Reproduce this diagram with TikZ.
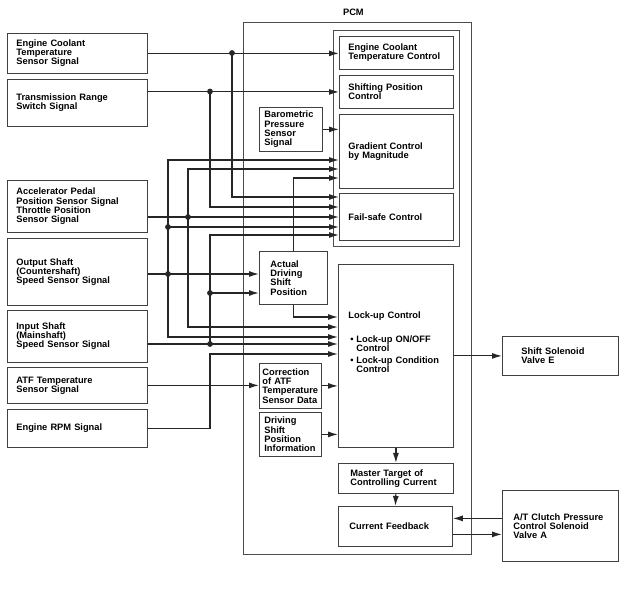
\documentclass[tikz,border=0pt]{standalone}
\usepackage{fontspec}
\setmainfont{Liberation Sans}
\usetikzlibrary{arrows.meta,calc}

\tikzset{
  blk/.style={draw=black!75, line width=0.8pt, anchor=north west, align=left, inner ysep=0pt},
  frame/.style={draw=black!70, line width=0.8pt, anchor=north west, inner sep=0pt},
  arr/.style={draw=black!85, line width=1.2pt, -{Latex[length=10pt,width=6pt]}},
}

\begin{document}
\begin{tikzpicture}[x=1pt,y=-1pt,font=\fontsize{9.3}{9.2}\selectfont\bfseries]
\useasboundingbox[fill=white] (0,0) rectangle (638,593);

% PCM and its control group
\node[frame, minimum width=228pt, minimum height=532pt,
  label={[label distance=3pt,xshift=-4pt]above:PCM}] (pcm) at (243,22) {};
\node[frame, minimum width=126pt, minimum height=216pt] (grp) at (333,30) {};

% input signals
\node[blk, inner xsep=9pt, text width=122pt, minimum height=40pt] (ect) at (7,33) {Engine Coolant\\Temperature\\Sensor Signal};
\node[blk, inner xsep=9pt, text width=122pt, minimum height=47pt] (tr) at (7,79) {Transmission Range\\Switch Signal};
\node[blk, inner xsep=9pt, text width=122pt, minimum height=52pt] (app) at (7,180) {Accelerator Pedal\\Position Sensor Signal\\Throttle Position\\Sensor Signal};
\node[blk, inner xsep=9pt, text width=122pt, minimum height=67pt] (os) at (7,238) {Output Shaft\\(Countershaft)\\Speed Sensor Signal};
\node[blk, inner xsep=9pt, text width=122pt, minimum height=52pt] (is) at (7,310) {Input Shaft\\(Mainshaft)\\Speed Sensor Signal};
\node[blk, inner xsep=9pt, text width=122pt, minimum height=36pt] (atf) at (7,367) {ATF Temperature\\Sensor Signal};
\node[blk, inner xsep=9pt, text width=122pt, minimum height=38pt] (rpm) at (7,409) {Engine RPM Signal};

% inside the PCM
\node[blk, inner xsep=9pt, text width=96pt, minimum height=33pt] (ectc) at (339,36) {Engine Coolant\\Temperature Control};
\node[blk, inner xsep=9pt, text width=96pt, minimum height=33pt] (shift) at (339,75) {Shifting Position\\Control};
\node[blk, inner xsep=9pt, text width=96pt, minimum height=74pt] (grad) at (339,114) {Gradient Control\\by Magnitude};
\node[blk, inner xsep=9pt, text width=96pt, minimum height=47pt] (fail) at (339,193) {Fail-safe Control};
\node[blk, inner xsep=5pt, text width=53pt, minimum height=44pt] (baro) at (259,107) {Barometric\\Pressure\\Sensor\\Signal};
\node[blk, inner xsep=11pt, text width=46pt, minimum height=53pt] (adsp) at (259,251) {Actual\\Driving\\Shift\\Position};
\node[blk, inner xsep=10pt, text width=95pt, text height=54.5pt, text depth=128.5pt] (lock) at (338,264) {Lock-up Control\\[14pt]
  \hspace*{2pt}\makebox[6pt][l]{\textbullet}Lock-up ON/OFF\\
  \hspace*{8pt}Control\\[3pt]
  \hspace*{2pt}\makebox[6pt][l]{\textbullet}Lock-up Condition\\
  \hspace*{8pt}Control};
\node[blk, inner xsep=3pt, text width=56pt, minimum height=45pt] (corr) at (259,363) {Correction\\of ATF\\Temperature\\Sensor Data};
\node[blk, inner xsep=5pt, text width=52pt, minimum height=44pt] (dspi) at (259,412) {Driving\\Shift\\Position\\Information};
\node[blk, inner xsep=12pt, text width=91pt, minimum height=30pt] (master) at (338,463) {Master Target of\\Controlling Current};
\node[blk, inner xsep=11pt, text width=92pt, minimum height=40pt] (cf) at (338,506) {Current Feedback};

% outputs
\node[blk, inner xsep=19pt, text width=78pt, minimum height=39pt] (ssv) at (502,336) {Shift Solenoid\\Valve E};
\node[blk, inner xsep=11pt, text width=94pt, minimum height=71pt] (atc) at (502,490) {A/T Clutch Pressure\\Control Solenoid\\Valve A};

% entry points
\foreach \n/\d in {1/4,2/14,3/24,4/34,5/42}
  \coordinate (f\n) at ($(fail.north west)+(0,\d)$);
\foreach \n/\d in {1/46,2/55,3/64}
  \coordinate (g\n) at ($(grad.north west)+(0,\d)$);
\foreach \n/\d in {1/53,2/63,3/73,4/80,5/90}
  \coordinate (l\n) at ($(lock.north west)+(0,\d)$);
\coordinate (cfin) at ($(cf.east)+(0,-8)$);
\coordinate (cfout) at ($(cf.east)+(0,8)$);

% junctions
\coordinate (jECT) at (232,53);
\coordinate (jTR) at (210,91.5);
\coordinate (jAPP) at (188,217);
\coordinate (jOSf) at (168,227);
\coordinate (jOS) at (168,274);
\coordinate (jISa) at (210,293);
\coordinate (jIS) at (210,344);

% signal lines
\draw[arr] (ect.east) -- (ectc.west |- ect.east);
\draw[arr] (jECT) |- (f1);
\draw[arr] (tr.east |- shift.west) -- (shift.west);
\draw[arr] (jTR) |- (f2);
\draw[arr] (app.east |- f3) -- (f3);
\draw[arr] (jAPP) |- (g2);
\draw[arr] (jAPP) |- (l2);
\draw[arr] (os.east |- jOS) -- (adsp.west |- jOS);
\draw[arr] (jOS) |- (g1);
\draw[arr] (jOSf) -- (f4);
\draw[arr] (jOS) |- (l3);
\draw[arr] (is.east |- jIS) -- (l4);
\draw[arr] (jIS) |- (f5);
\draw[arr] (jISa) -- (adsp.west |- jISa);
\draw[arr] (atf.east) -- (corr.west |- atf.east);
\draw[arr] (rpm.east) -| (jIS |- l5) -- (l5);
\draw[arr] (baro.east) -- (grad.west |- baro.east);
\draw[arr] (adsp.north) |- (g3);
\draw[arr] (adsp.south) |- (l1);
\draw[arr] (corr.east) -- (lock.west |- corr.east);
\draw[arr] (dspi.east) -- (lock.west |- dspi.east);
\draw[arr] (lock.south) -- (master.north);
\draw[arr] (master.south) -- (cf.north);
\draw[arr] (lock.east |- ssv.west) -- (ssv.west);
\draw[arr] (atc.west |- cfin) -- (cfin);
\draw[arr] (cfout) -- (atc.west |- cfout);

\foreach \j in {jECT,jTR,jAPP,jOSf,jOS,jISa,jIS}
  \fill[black!85] (\j) circle (2.9);
\end{tikzpicture}
\end{document}
